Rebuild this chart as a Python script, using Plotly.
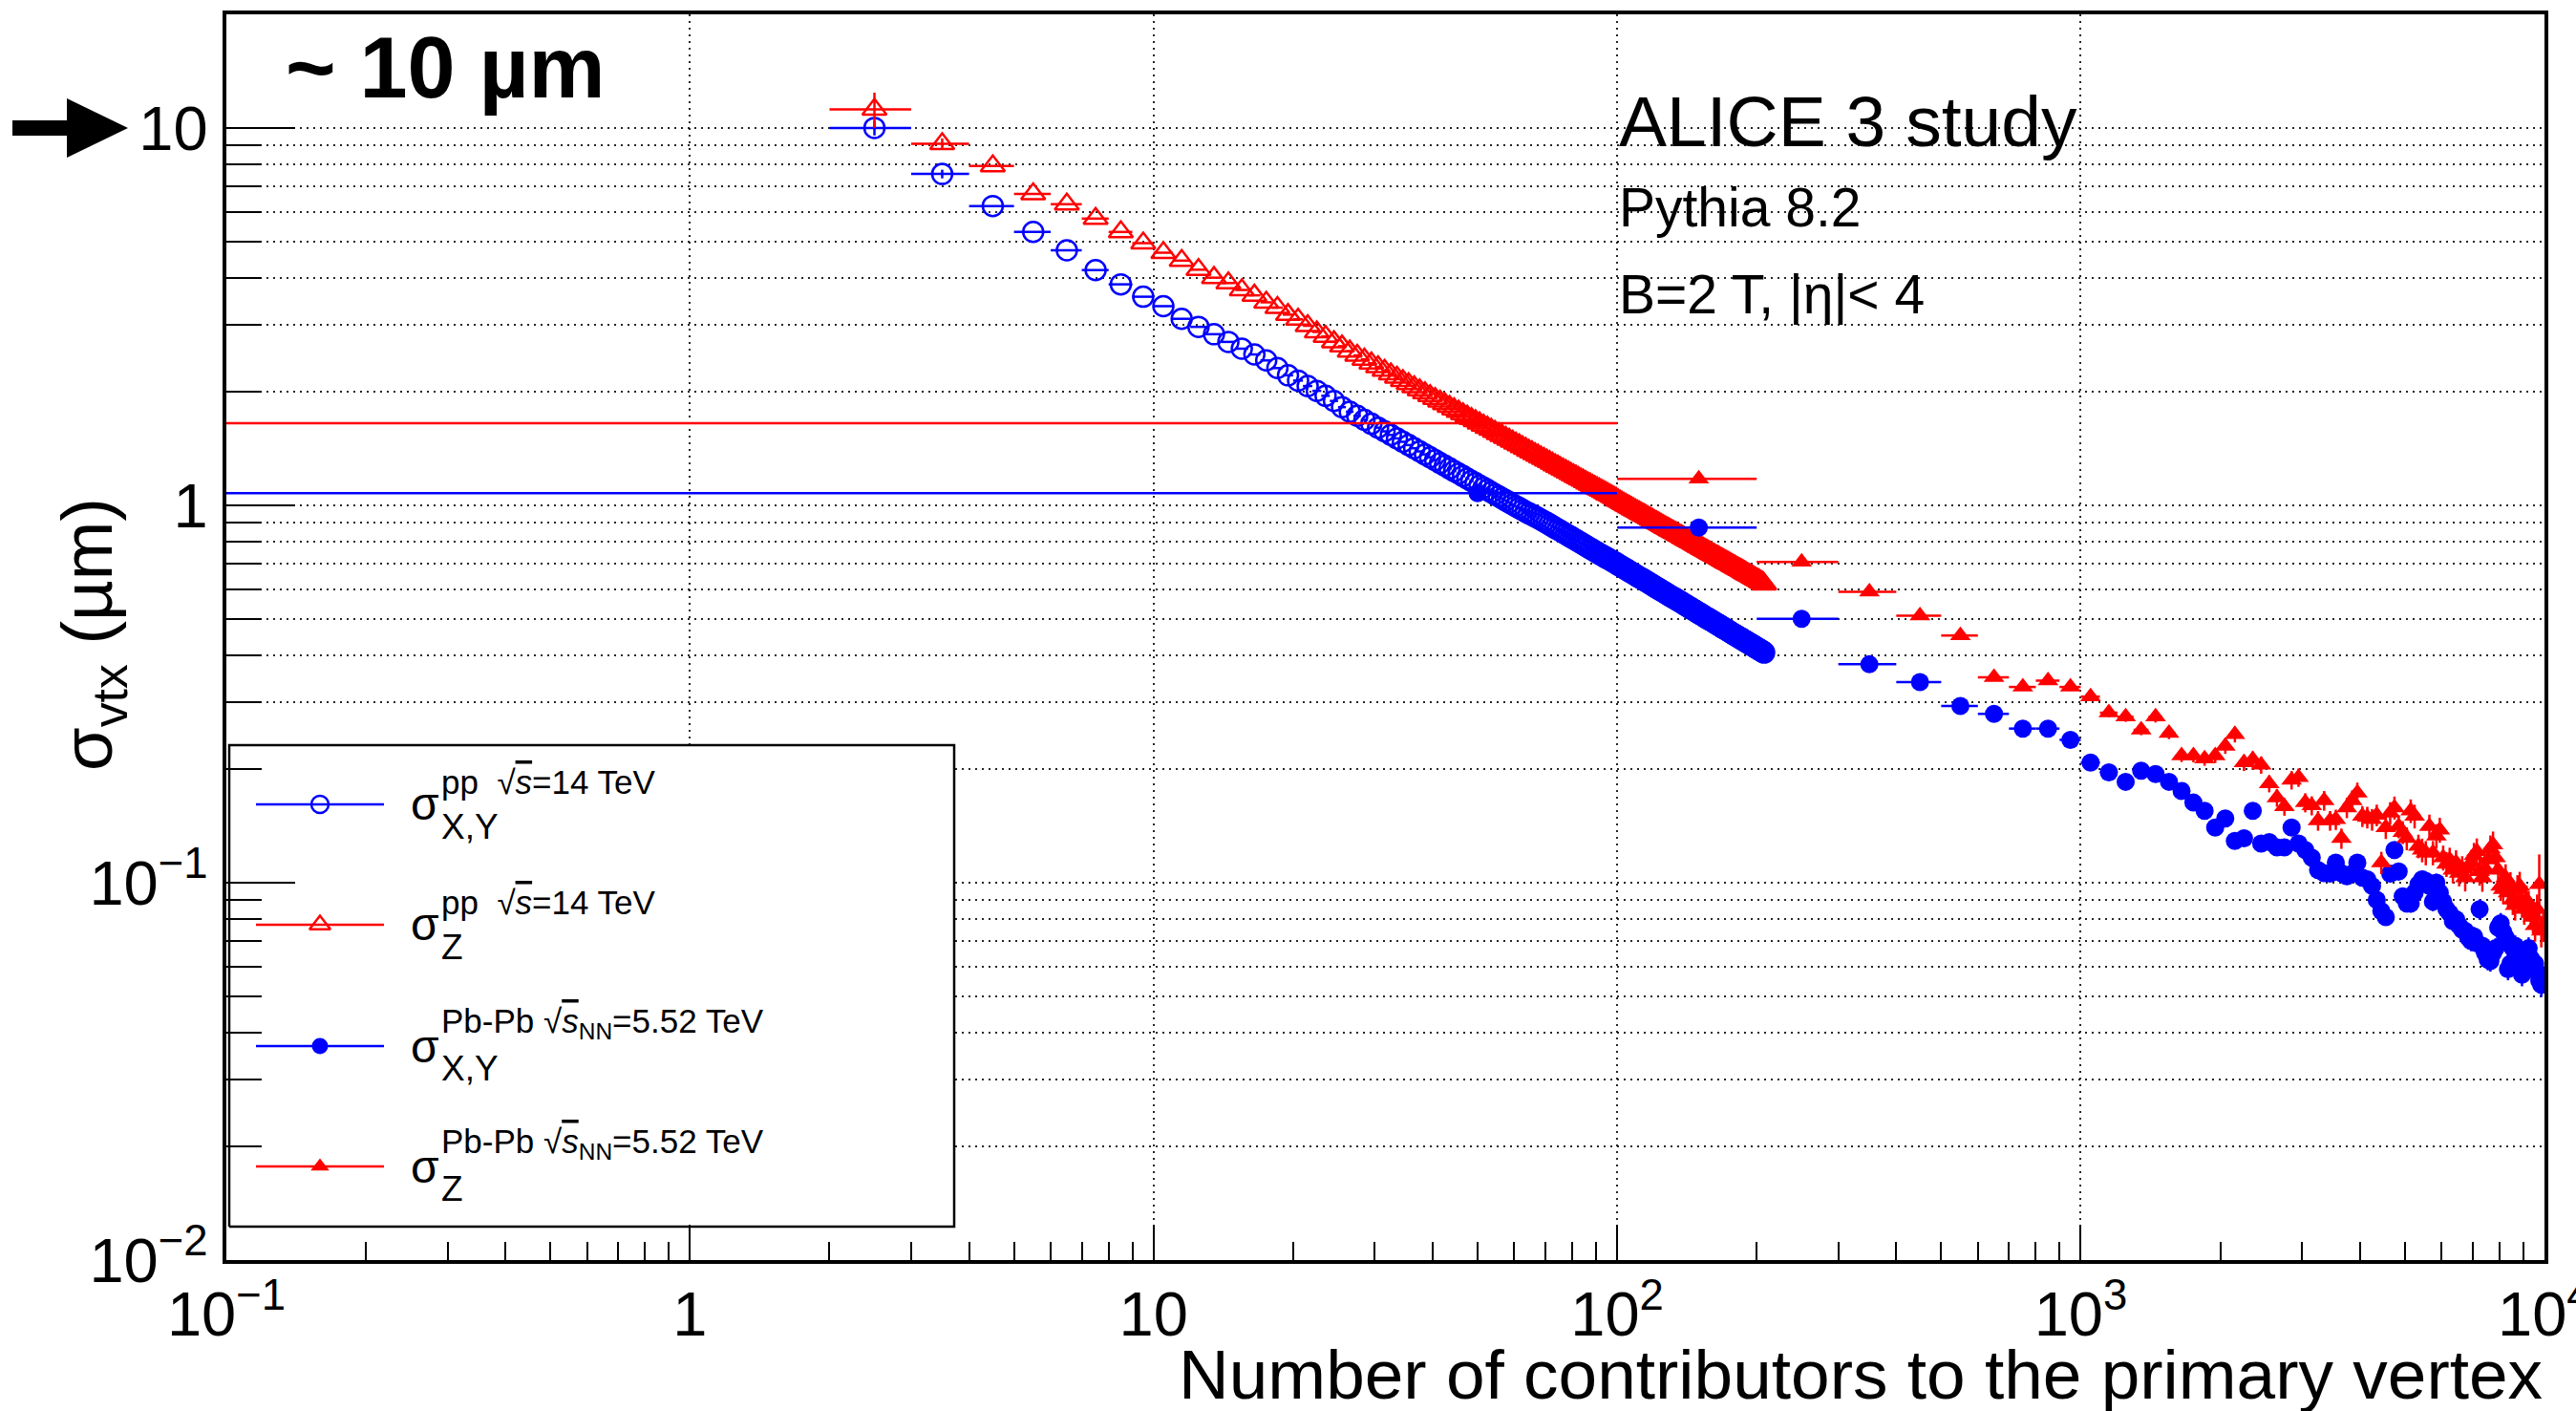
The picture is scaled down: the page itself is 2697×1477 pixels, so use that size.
import plotly.graph_objects as go

# ---------------- data ----------------
# pp: bins of unit width, first bin centre 2.5
pp_xy = [
    10.0, 7.55, 6.21, 5.30, 4.74, 4.20, 3.85, 3.57, 3.37, 3.12,
    2.97, 2.84, 2.71, 2.60, 2.51, 2.42, 2.31, 2.21, 2.14, 2.07,
    2.01, 1.95, 1.89, 1.82, 1.77,
    1.726, 1.684, 1.644, 1.606, 1.570, 1.536, 1.504, 1.473, 1.444, 1.416,
    1.389, 1.364, 1.340, 1.317, 1.294, 1.273, 1.252, 1.232, 1.213, 1.195,
    1.177, 1.160, 1.144, 1.128, 1.113, 1.098, 1.083, 1.069, 1.056, 1.043,
    1.030, 1.018, 1.006, 0.994, 0.983, 0.972, 0.961, 0.952, 0.943, 0.934,
    0.925, 0.916, 0.907, 0.898, 0.889, 0.880, 0.871, 0.863, 0.855, 0.847,
    0.839, 0.831, 0.824, 0.816, 0.809, 0.802, 0.795, 0.788, 0.781, 0.775,
    0.768, 0.762, 0.756, 0.750, 0.744, 0.738, 0.733, 0.727, 0.722, 0.717,
    0.712, 0.707, 0.702,
    0.696, 0.691, 0.686, 0.681, 0.677, 0.672, 0.667, 0.663, 0.658, 0.654,
    0.649, 0.645, 0.641, 0.637, 0.633, 0.629, 0.625, 0.621, 0.617, 0.613,
    0.609, 0.605, 0.602, 0.598, 0.595, 0.591, 0.588, 0.584, 0.581, 0.577,
    0.574, 0.571, 0.568, 0.565, 0.562, 0.559, 0.556, 0.553, 0.550, 0.547,
    0.544, 0.541, 0.538, 0.535, 0.533, 0.530, 0.527, 0.525, 0.522, 0.519,
    0.517, 0.514, 0.512, 0.509, 0.507, 0.504, 0.502, 0.500, 0.497, 0.495,
    0.493, 0.491, 0.488, 0.486, 0.484, 0.482, 0.480, 0.477, 0.475, 0.473,
    0.471, 0.469, 0.467, 0.465, 0.463, 0.461, 0.459, 0.457, 0.455, 0.453,
    0.452, 0.450, 0.448, 0.446, 0.444, 0.443, 0.441, 0.439, 0.437, 0.436,
    0.434, 0.432, 0.431, 0.429, 0.427, 0.426, 0.424, 0.423, 0.421, 0.419,
    0.418, 0.416, 0.415, 0.413, 0.412, 0.410, 0.409, 0.407,
]
pp_z = [
    11.2, 9.08, 7.93, 6.68, 6.28, 5.75, 5.30, 4.95, 4.67, 4.45,
    4.21, 4.01, 3.88, 3.72, 3.60, 3.45, 3.34, 3.20, 3.11, 2.99,
    2.88, 2.80, 2.71, 2.64, 2.56,
    2.496, 2.436, 2.380, 2.326, 2.276, 2.228, 2.183, 2.139, 2.098, 2.059,
    2.021, 1.985, 1.951, 1.918, 1.887, 1.856, 1.827, 1.799, 1.773, 1.746,
    1.721, 1.697, 1.674, 1.651, 1.629, 1.608, 1.588, 1.568, 1.548, 1.530,
    1.512, 1.494, 1.477, 1.460, 1.444, 1.428, 1.413, 1.398, 1.384, 1.369,
    1.356, 1.342, 1.329, 1.316, 1.304, 1.291, 1.279, 1.268, 1.256, 1.245,
    1.234, 1.223, 1.213, 1.203, 1.193, 1.183, 1.173, 1.164, 1.155, 1.145,
    1.137, 1.128, 1.119, 1.111, 1.103, 1.095, 1.087, 1.079, 1.071, 1.064,
    1.056, 1.049, 1.042,
    1.031, 1.024, 1.017, 1.010, 1.003, 0.996, 0.990, 0.983, 0.977, 0.971,
    0.965, 0.959, 0.953, 0.947, 0.942, 0.936, 0.930, 0.925, 0.919, 0.914,
    0.908, 0.903, 0.898, 0.893, 0.888, 0.883, 0.878, 0.873, 0.869, 0.864,
    0.859, 0.855, 0.850, 0.846, 0.842, 0.837, 0.833, 0.829, 0.825, 0.820,
    0.816, 0.812, 0.808, 0.804, 0.800, 0.797, 0.793, 0.789, 0.785, 0.781,
    0.777, 0.774, 0.770, 0.767, 0.763, 0.760, 0.757, 0.753, 0.750, 0.746,
    0.743, 0.740, 0.737, 0.734, 0.731, 0.728, 0.725, 0.722, 0.719, 0.716,
    0.7125, 0.710, 0.707, 0.704, 0.701, 0.699, 0.696, 0.693, 0.690, 0.688,
    0.685, 0.682, 0.680, 0.677, 0.675, 0.672, 0.670, 0.667, 0.665, 0.662,
    0.659, 0.657, 0.655, 0.652, 0.650, 0.648, 0.645, 0.643, 0.641, 0.638,
    0.636, 0.634, 0.632, 0.629, 0.627, 0.625, 0.622, 0.618,
]
pp_xy_err_first = [0.45, 0.2]
pp_z_err_first = [1.2, 0.3]

# Pb-Pb: bins of width 100, first bin centre 50
pbpb_xy = [
    1.077, 0.873, 0.500, 0.379, 0.340, 0.294, 0.280, 0.256, 0.256, 0.239,
    0.208, 0.196, 0.185, 0.198, 0.194, 0.185, 0.175, 0.163, 0.155, 0.140,
    0.148, 0.129, 0.131, 0.155, 0.127, 0.128, 0.124, 0.124, 0.140, 0.127,
    0.122, 0.1165, 0.108, 0.106, 0.1056, 0.113, 0.106, 0.104, 0.1056, 0.113,
    0.103, 0.102, 0.098, 0.090, 0.084, 0.081, 0.1056, 0.122, 0.107, 0.092,
    0.088, 0.088, 0.094, 0.099, 0.102, 0.101, 0.098, 0.089, 0.100, 0.094,
    0.089, 0.085, 0.083, 0.079, 0.080, 0.077, 0.075, 0.0745, 0.0716, 0.070,
    0.072, 0.069, 0.085, 0.068, 0.065, 0.0625, 0.062, 0.065, 0.067, 0.076,
    0.078, 0.074, 0.0716, 0.059, 0.061, 0.067, 0.068, 0.064, 0.059, 0.057,
    0.061, 0.065, 0.067, 0.063, 0.060, 0.061, 0.058, 0.055, 0.0536, 0.055,
]
pbpb_z = [
    1.65, 1.175, 0.708, 0.590, 0.510, 0.452, 0.350, 0.330, 0.343, 0.330,
    0.311, 0.282, 0.275, 0.254, 0.275, 0.249, 0.217, 0.217, 0.213, 0.217,
    0.230, 0.247, 0.208, 0.212, 0.205, 0.183, 0.168, 0.159, 0.187, 0.190,
    0.163, 0.160, 0.146, 0.165, 0.146, 0.147, 0.131, 0.158, 0.165, 0.173,
    0.150, 0.149, 0.147, 0.151, 0.113, 0.140, 0.153, 0.158, 0.141, 0.136,
    0.131, 0.155, 0.150, 0.125, 0.122, 0.120, 0.141, 0.120, 0.133, 0.138,
    0.1165, 0.112, 0.115, 0.108, 0.113, 0.106, 0.109, 0.103, 0.110, 0.113,
    0.118, 0.121, 0.107, 0.103, 0.109, 0.115, 0.123, 0.126, 0.1165, 0.108,
    0.098, 0.096, 0.103, 0.094, 0.098, 0.090, 0.087, 0.096, 0.098, 0.089,
    0.085, 0.090, 0.087, 0.083, 0.081, 0.077, 0.085, 0.099, 0.0745, 0.077,
]
# vertical error bars, in percent of the value
pbpb_xy_pct = [
    0.6, 0.6, 0.8, 1.0, 1.1, 1.2, 1.4, 1.5, 1.7, 1.8,
    2.0, 2.1, 2.3, 2.4, 2.6, 2.7, 2.9, 3.0, 3.2, 3.3,
    3.5, 3.6, 3.8, 3.8, 3.9, 3.9, 4.1, 4.1, 4.2, 4.2,
    4.4, 4.4, 4.5, 4.5, 4.5, 4.7, 4.7, 4.7, 4.8, 4.8,
    4.8, 5.0, 5.0, 5.0, 5.1, 5.1, 5.1, 5.3, 5.3, 5.3,
    5.3, 5.4, 5.4, 5.4, 5.4, 5.6, 5.6, 5.6, 5.6, 5.7,
    5.7, 5.7, 5.7, 5.9, 5.9, 5.9, 5.9, 6.0, 6.0, 6.0,
    6.0, 6.2, 6.2, 6.2, 6.2, 6.3, 6.3, 6.3, 6.3, 6.5,
    6.5, 6.5, 6.5, 6.6, 6.6, 6.6, 6.6, 6.8, 6.8, 6.8,
    6.8, 6.9, 6.9, 6.9, 7.1, 7.1, 7.1, 7.1, 7.2, 7.2,
]
pbpb_z_pct = [
    0.8, 0.8, 1.0, 1.2, 1.4, 1.6, 1.8, 2.0, 2.2, 2.4,
    2.6, 2.8, 3.0, 3.2, 3.4, 3.6, 3.8, 4.0, 4.2, 4.4,
    4.6, 4.8, 5.0, 5.0, 5.2, 5.2, 5.4, 5.4, 5.6, 5.6,
    5.8, 5.8, 6.0, 6.0, 6.0, 6.2, 6.2, 6.2, 6.4, 6.4,
    6.4, 6.6, 6.6, 6.6, 6.8, 6.8, 6.8, 7.0, 7.0, 7.0,
    7.0, 7.2, 7.2, 7.2, 7.2, 7.4, 7.4, 7.4, 7.4, 7.6,
    7.6, 7.6, 7.6, 7.8, 7.8, 7.8, 7.8, 8.0, 8.0, 8.0,
    8.0, 8.2, 8.2, 8.2, 8.2, 8.4, 8.4, 8.4, 8.4, 8.6,
    8.6, 8.6, 8.6, 8.8, 8.8, 8.8, 8.8, 9.0, 9.0, 9.0,
    9.0, 9.2, 9.2, 9.2, 9.4, 9.4, 9.4, 20.0, 9.6, 9.6,
]

legend_labels = [
    ("X,Y", "pp  \u221a<span style='font-style:italic;text-decoration:overline'>s</span>=14 TeV"),
    ("Z", "pp  \u221a<span style='font-style:italic;text-decoration:overline'>s</span>=14 TeV"),
    ("X,Y", "Pb-Pb \u221a<span style='font-style:italic;text-decoration:overline'>s</span><sub>NN</sub>=5.52 TeV"),
    ("Z", "Pb-Pb \u221a<span style='font-style:italic;text-decoration:overline'>s</span><sub>NN</sub>=5.52 TeV"),
]

# ---------------- derived bin centres ----------------
pp_xy_n = [2.5 + i for i in range(len(pp_xy))]
pp_z_n = [2.5 + i for i in range(len(pp_z))]
pbpb_n = [50 + 100 * i for i in range(len(pbpb_xy))]
pp_xy_err = pp_xy_err_first + [0.0] * (len(pp_xy) - len(pp_xy_err_first))
pp_z_err = pp_z_err_first + [0.0] * (len(pp_z) - len(pp_z_err_first))
pbpb_xy_err = [v * p / 100 for v, p in zip(pbpb_xy, pbpb_xy_pct)]
pbpb_z_err = [v * p / 100 for v, p in zip(pbpb_z, pbpb_z_pct)]

BLUE = "#0000ff"
RED = "#ff0000"
FONT = "Liberation Sans, Arial, Helvetica, sans-serif"

W, H = 2697, 1477
L, R, T, B = 237, 33, 15, 158
PW, PH = W - L - R, H - T - B


def px(x):
    return (x - L) / PW


def py(y):
    return (H - B - y) / PH


fig = go.Figure()

fig.add_trace(go.Scatter(
    x=pp_xy_n, y=pp_xy, mode="markers",
    marker=dict(symbol="circle-open", size=21, color=BLUE, line=dict(width=2.5, color=BLUE)),
    error_x=dict(type="constant", value=0.5, width=0, thickness=2.5, color=BLUE),
    error_y=dict(type="data", array=pp_xy_err, width=0, thickness=2.5, color=BLUE),
))
fig.add_trace(go.Scatter(
    x=pp_z_n, y=pp_z, mode="markers",
    marker=dict(symbol="triangle-up-open", size=22, color=RED, line=dict(width=2.5, color=RED)),
    error_x=dict(type="constant", value=0.5, width=0, thickness=2.5, color=RED),
    error_y=dict(type="data", array=pp_z_err, width=0, thickness=2.5, color=RED),
))
fig.add_trace(go.Scatter(
    x=pbpb_n, y=pbpb_xy, mode="markers",
    marker=dict(symbol="circle", size=19, color=BLUE, line=dict(width=0)),
    error_x=dict(type="constant", value=50, width=0, thickness=2.5, color=BLUE),
    error_y=dict(type="data", array=pbpb_xy_err, width=0, thickness=2.5, color=BLUE),
))
fig.add_trace(go.Scatter(
    x=pbpb_n, y=pbpb_z, mode="markers",
    marker=dict(symbol="triangle-up", size=19, color=RED, line=dict(width=0)),
    error_x=dict(type="constant", value=50, width=0, thickness=2.5, color=RED),
    error_y=dict(type="data", array=pbpb_z_err, width=0, thickness=2.5, color=RED),
))

# legend box and entries (drawn on a hidden overlay axis spanning the plot area)
bx0, bx1, by0, by1 = px(240), px(999), py(1284), py(780)
fig.add_trace(go.Scatter(
    x=[bx0, bx1, bx1, bx0, bx0], y=[by0, by0, by1, by1, by0],
    mode="lines", fill="toself", fillcolor="white",
    line=dict(color="black", width=2.5), xaxis="x2", yaxis="y2", hoverinfo="skip",
))
leg_rows = [842, 968, 1095, 1221]
leg_styles = [
    dict(symbol="circle-open", size=18, color=BLUE, line=dict(width=2.5, color=BLUE)),
    dict(symbol="triangle-up-open", size=19, color=RED, line=dict(width=2.5, color=RED)),
    dict(symbol="circle", size=17, color=BLUE, line=dict(width=0)),
    dict(symbol="triangle-up", size=17, color=RED, line=dict(width=0)),
]
leg_cols = [BLUE, RED, BLUE, RED]
for row, st, col in zip(leg_rows, leg_styles, leg_cols):
    fig.add_trace(go.Scatter(
        x=[px(335)], y=[py(row)], mode="markers", xaxis="x2", yaxis="y2",
        marker=st,
        error_x=dict(type="constant", value=67 / PW, width=0, thickness=2.5, color=col),
    ))

grid = dict(showgrid=True, gridcolor="rgba(0,0,0,0.85)", gridwidth=2, griddash="2px,5px")

fig.update_layout(
    width=W, height=H,
    margin=dict(l=L, r=R, t=T, b=B, autoexpand=False),
    paper_bgcolor="white", plot_bgcolor="white",
    showlegend=False,
    font=dict(family=FONT, color="black"),
    xaxis=dict(
        type="log", range=[-1, 4.0003], dtick=1, exponentformat="power",
        ticks="inside", ticklen=37, tickwidth=2, tickcolor="black",
        minor=dict(ticks="inside", ticklen=19, tickwidth=2, tickcolor="black", dtick="D1", showgrid=False),
        showline=True, linewidth=4, linecolor="black", mirror=True,
        zeroline=False, tickfont=dict(size=52, family=FONT), ticklabelstandoff=0,
        ticklabeloverflow="allow",
        automargin=False, **grid,
    ),
    yaxis=dict(
        type="log", range=[-2.0002, 1.301], dtick=1, exponentformat="power",
        ticks="inside", ticklen=72, tickwidth=2, tickcolor="black",
        minor=dict(ticks="inside", ticklen=37, tickwidth=2, tickcolor="black", dtick="D1",
                   showgrid=True, gridcolor="rgba(0,0,0,0.85)", gridwidth=2, griddash="2px,5px"),
        showline=True, linewidth=4, linecolor="black", mirror=True,
        zeroline=False, tickfont=dict(size=52, family=FONT), ticklabelstandoff=5,
        ticklabeloverflow="allow",
        automargin=False, **grid,
    ),
    xaxis2=dict(overlaying="x", anchor="y2", range=[0, 1], visible=False, showgrid=False),
    yaxis2=dict(overlaying="y", anchor="x2", range=[0, 1], visible=False, showgrid=False),
)

shapes = [
    # arrow pointing at the 10 label
    dict(type="path", xref="paper", yref="paper",
         path=(f"M {px(13)},{py(126)} L {px(70)},{py(126)} L {px(70)},{py(103)} L {px(134)},{py(134)} "
               f"L {px(70)},{py(165)} L {px(70)},{py(142)} L {px(13)},{py(142)} Z"),
         fillcolor="black", line=dict(width=0), layer="above"),
]
fig.update_layout(shapes=shapes)

ann = []


def add_text(text, x, y, size, xanchor="left", yanchor="middle", angle=0):
    ann.append(dict(text=text, x=x, y=y, xref="paper", yref="paper", showarrow=False,
                    xanchor=xanchor, yanchor=yanchor, textangle=angle,
                    font=dict(size=size, family=FONT, color="black")))


add_text("Number of contributors to the primary vertex", 1.0, py(1438), 73, xanchor="right")
add_text("\u03c3<sub>vtx</sub> (\u00b5m)", px(97), py(664), 74, xanchor="center", angle=-90)
add_text("ALICE 3 study", px(1693), py(127), 75)
add_text("Pythia 8.2", px(1693), py(217), 57)
add_text("B=2 T, |\u03b7|< 4", px(1693), py(308), 57)
add_text("<b>~ 10 \u00b5m</b>", px(297), py(71), 90)

for row, (sub, sup) in zip(leg_rows, legend_labels):
    add_text("\u03c3", px(428), py(row), 48)
    add_text(sup, px(460), py(row - 24), 35)
    add_text(sub, px(460), py(row + 23), 37)

fig.update_layout(annotations=ann)

fig.write_html("out.html")
